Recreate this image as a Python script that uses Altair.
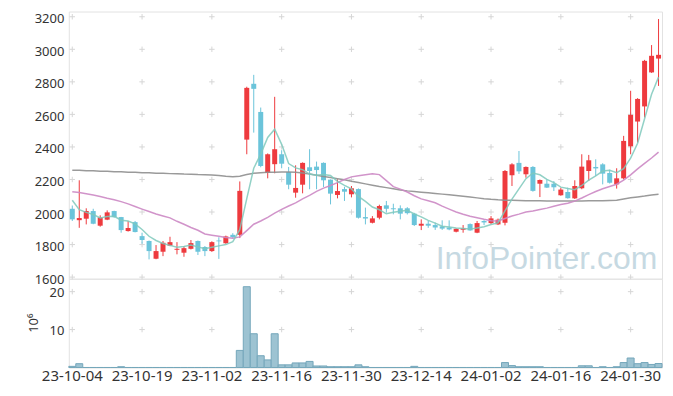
import altair as alt
import pandas as pd

dates = [
    "23-10-04", "23-10-05", "23-10-06", "23-10-10", "23-10-11", "23-10-12", "23-10-13", "23-10-16", "23-10-17", "23-10-18",
    "23-10-19", "23-10-20", "23-10-23", "23-10-24", "23-10-25", "23-10-26", "23-10-27", "23-10-30", "23-10-31", "23-11-01",
    "23-11-02", "23-11-03", "23-11-06", "23-11-07", "23-11-08", "23-11-09", "23-11-10", "23-11-13", "23-11-14", "23-11-15",
    "23-11-16", "23-11-17", "23-11-20", "23-11-21", "23-11-22", "23-11-23", "23-11-24", "23-11-27", "23-11-28", "23-11-29",
    "23-11-30", "23-12-01", "23-12-04", "23-12-05", "23-12-06", "23-12-07", "23-12-08", "23-12-11", "23-12-12", "23-12-13",
    "23-12-14", "23-12-15", "23-12-18", "23-12-19", "23-12-20", "23-12-21", "23-12-22", "23-12-26", "23-12-27", "23-12-28",
    "24-01-02", "24-01-03", "24-01-04", "24-01-05", "24-01-08", "24-01-09", "24-01-10", "24-01-11", "24-01-12", "24-01-15",
    "24-01-16", "24-01-17", "24-01-18", "24-01-19", "24-01-22", "24-01-23", "24-01-24", "24-01-25", "24-01-26", "24-01-29",
    "24-01-30", "24-01-31", "24-02-01", "24-02-02", "24-02-05",
]

opens = [
    2020, 1950, 1959, 2006, 1916, 1953, 2006, 1969, 1883, 1938,
    1852, 1822, 1713, 1756, 1793, 1768, 1750, 1774, 1822, 1785,
    1760, 1825, 1808, 1860, 1860, 2445, 2788, 2615, 2240, 2294,
    2355, 2246, 2119, 2168, 2275, 2279, 2302, 2199, 2105, 2141,
    2109, 2141, 1969, 1934, 1965, 2041, 2023, 2023, 2023, 1990,
    1916, 1928, 1920, 1912, 1905, 1879, 1891, 1926, 1873, 1945,
    1932, 1924, 1934, 2226, 2302, 2232, 2277, 2174, 2174, 2174,
    2103, 2123, 2084, 2146, 2252, 2277, 2293, 2240, 2170, 2207,
    2404, 2556, 2649, 2858, 2943,
]
highs = [
    2040, 2195, 2023, 2020, 1980, 2010, 2008, 1970, 1945, 1945,
    1873, 1825, 1797, 1822, 1848, 1815, 1791, 1828, 1825, 1791,
    1820, 1845, 1855, 1870, 2188, 2770, 2843, 2642, 2360, 2708,
    2380, 2277, 2287, 2305, 2386, 2310, 2305, 2200, 2201, 2155,
    2160, 2145, 2027, 1975, 2045, 2068, 2051, 2041, 2030, 1995,
    1955, 1945, 1935, 1949, 1949, 1900, 1920, 1930, 1945, 1950,
    1975, 1960, 2258, 2300, 2375, 2280, 2282, 2200, 2200, 2190,
    2150, 2150, 2195, 2355, 2351, 2324, 2300, 2260, 2269, 2468,
    2745, 2700, 2935, 3026, 3186,
]
lows = [
    1945, 1903, 1924, 1925, 1910, 1950, 1965, 1873, 1880, 1875,
    1805, 1709, 1710, 1729, 1790, 1740, 1725, 1770, 1736, 1729,
    1755, 1712, 1805, 1838, 1840, 2355, 2488, 2275, 2207, 2238,
    2269, 2140, 2088, 2115, 2140, 2140, 2154, 2047, 2084, 2068,
    2090, 1960, 1924, 1930, 1955, 1996, 1986, 1955, 1985, 1914,
    1889, 1903, 1890, 1890, 1888, 1875, 1873, 1885, 1870, 1920,
    1925, 1920, 1918, 2160, 2234, 2211, 2125, 2092, 2148, 2129,
    2100, 2082, 2080, 2140, 2191, 2222, 2170, 2175, 2144, 2200,
    2355, 2427, 2581, 2855, 2775,
]
closes = [
    1955, 1963, 2006, 1928, 1967, 1998, 1969, 1889, 1902, 1877,
    1828, 1760, 1760, 1811, 1815, 1774, 1778, 1809, 1756, 1760,
    1815, 1820, 1850, 1845, 2130, 2763, 2757, 2283, 2355, 2386,
    2297, 2168, 2148, 2302, 2252, 2258, 2195, 2113, 2129, 2125,
    2146, 1965, 1960, 1961, 2037, 2020, 2017, 1990, 1993, 1920,
    1928, 1916, 1905, 1898, 1893, 1897, 1900, 1887, 1932, 1936,
    1961, 1953, 2252, 2293, 2250, 2277, 2130, 2197, 2150, 2152,
    2138, 2085, 2160, 2279, 2318, 2268, 2236, 2180, 2207, 2437,
    2597, 2695, 2929, 2960, 2966,
]
ma5 = [
    2072, 2015, 1998, 1985, 1964, 1972, 1974, 1950, 1945, 1927,
    1893, 1851, 1825, 1807, 1795, 1784, 1788, 1797, 1786, 1775,
    1784, 1792, 1800, 1818, 1892, 2082, 2269, 2356, 2458, 2509,
    2416, 2298, 2271, 2260, 2233, 2226, 2231, 2224, 2189, 2164,
    2142, 2096, 2065, 2031, 2014, 1989, 1999, 2005, 2011, 1988,
    1970, 1949, 1932, 1913, 1908, 1902, 1899, 1895, 1902, 1910,
    1923, 1934, 2007, 2079, 2142, 2205, 2240, 2229, 2201, 2181,
    2153, 2144, 2137, 2163, 2196, 2222, 2252, 2256, 2242, 2266,
    2331, 2423, 2573, 2724, 2829,
]
ma20 = [
    2125, 2120, 2112, 2104, 2095, 2085, 2076, 2064, 2050, 2034,
    2018, 2003, 1988, 1976, 1964, 1943, 1925, 1905, 1888, 1865,
    1858, 1851, 1843, 1839, 1847, 1886, 1925, 1945, 1967, 1993,
    2016, 2037, 2056, 2081, 2102, 2127, 2147, 2163, 2181, 2200,
    2216, 2223, 2229, 2235, 2230, 2193, 2156, 2141, 2123, 2100,
    2081, 2069, 2057, 2036, 2018, 2000, 1986, 1974, 1965, 1955,
    1946, 1945, 1960, 1976, 1987, 2000, 2006, 2016, 2024, 2035,
    2046, 2054, 2067, 2086, 2107, 2126, 2143, 2157, 2171, 2196,
    2228, 2265, 2299, 2332, 2368,
]
ma_long = [
    2257, 2256, 2254, 2253, 2251, 2250, 2248, 2247, 2245, 2244,
    2242, 2241, 2239, 2238, 2236, 2235, 2233, 2232, 2230, 2229,
    2227, 2224, 2220, 2217, 2220, 2230, 2238, 2242, 2244, 2245,
    2246, 2246, 2244, 2240, 2233, 2226, 2219, 2212, 2205, 2198,
    2189, 2181, 2173, 2165, 2157, 2150, 2143, 2136, 2130, 2126,
    2122, 2118, 2114, 2110, 2106, 2102, 2097, 2092, 2087, 2082,
    2078, 2075, 2073, 2072, 2071, 2070, 2069, 2069, 2068, 2068,
    2068, 2068, 2068, 2068, 2069, 2069, 2070, 2071, 2072, 2080,
    2088, 2093, 2098, 2104, 2109,
]
# volume in millions (10^6)
volume = [
    0.3, 1.0, 0, 0, 0, 0, 0, 0.2, 0, 0,
    0, 0, 0, 0, 0, 0, 0, 0, 0, 0,
    0, 0, 0, 0, 4.5, 21.3, 8.9, 3.1, 2.0, 8.9,
    0.7, 0.7, 1.2, 1.2, 1.6, 0.4, 0.4, 0.2, 0.2, 0.2,
    0.2, 0.7, 0.2, 0, 0, 0, 0, 0, 0, 0.3,
    0, 0, 0, 0, 0, 0, 0, 0, 0, 0,
    0, 0, 1.3, 0.5, 0.2, 0.2, 0.2, 0.2, 0, 0,
    0, 0, 0, 0.45, 0.45, 0, 0.2, 0, 0.2, 1.3,
    2.5, 1.0, 1.3, 0.8, 1.05,
]

price_ticks = [1600, 1800, 2000, 2200, 2400, 2600, 2800, 3000, 3200]
vol_ticks = [10, 20]
label_dates = dates[::10]
watermark = "InfoPointer.com"

RED = "#ee3a3e"
BLUE = "#6bc4da"
FONT = "Noto Sans"
TXT = "#333333"

df = pd.DataFrame({
    "date": dates, "open": opens, "high": highs, "low": lows, "close": closes,
    "ma5": ma5, "ma20": ma20, "malong": ma_long, "vol": volume,
})
price_grid = pd.DataFrame([(d, p) for d in label_dates for p in price_ticks], columns=["date", "p"])
vol_grid = pd.DataFrame([(d, v) for d in label_dates for v in vol_ticks], columns=["date", "v"])

xscale = alt.Scale(domain=dates, paddingInner=0, paddingOuter=0)
pscale = alt.Scale(domain=[1590, 3232], nice=False, zero=False)
vscale = alt.Scale(domain=[0, 23.4], nice=False)

x_axis = alt.Axis(
    values=label_dates, labelAngle=0, ticks=False, domain=False, grid=False, title=None,
    labelFontSize=15, labelPadding=1, labelColor=TXT, labelFont=FONT, labelOverlap=False)
p_axis = alt.Axis(
    values=price_ticks, format="d", title=None, ticks=False, domain=False, grid=False,
    labelPadding=5, labelFontSize=13, labelColor=TXT, labelFont=FONT, labelOffset=2,
    minExtent=68, maxExtent=68)
v_axis = alt.Axis(
    values=vol_ticks, format="d", ticks=False, domain=False, grid=False,
    labelPadding=5, labelFontSize=13, labelColor=TXT, labelFont=FONT, labelOffset=1,
    minExtent=68, maxExtent=68,
    title="10⁶", titleFont=FONT, titleFontSize=13, titleFontWeight="normal", titleColor=TXT,
    titleX=-35, titleY=44, titleAngle=270, titleAlign="center", titleBaseline="middle")

cross = "M-1,0L1,0M0,-1L0,1"
color_cond = alt.condition("datum.close >= datum.open", alt.value(RED), alt.value(BLUE))

base = alt.Chart(df)

wm = alt.Chart(pd.DataFrame({"t": [watermark]})).mark_text(
    font="Liberation Sans", fontSize=32, color="#c6d9e2", align="left", baseline="alphabetic"
).encode(text="t:N", x=alt.value(368), y=alt.value(258))

pgrid = alt.Chart(price_grid).mark_point(shape=cross, size=30, filled=False, color="#d6d6d6", strokeWidth=1, opacity=1).encode(
    x=alt.X("date:O", scale=xscale, axis=None),
    y=alt.Y("p:Q", scale=pscale, axis=p_axis),
)

wicks = base.mark_rule(strokeWidth=1).encode(
    x=alt.X("date:O", scale=xscale, axis=None),
    y=alt.Y("low:Q", scale=pscale, axis=p_axis),
    y2="high:Q",
    color=color_cond,
)
bodies = base.mark_bar(size=5).encode(
    x=alt.X("date:O", scale=xscale, axis=None),
    y=alt.Y("open:Q", scale=pscale, axis=p_axis),
    y2="close:Q",
    color=color_cond,
)

def ma_line(field, col, op):
    return base.mark_line(strokeWidth=1.5, color=col, opacity=op).encode(
        x=alt.X("date:O", scale=xscale, axis=None),
        y=alt.Y(f"{field}:Q", scale=pscale, axis=p_axis),
    )

price = alt.layer(
    pgrid, wm, wicks, bodies,
    ma_line("malong", "#8f8f8f", 0.9),
    ma_line("ma20", "#cc88c4", 0.9),
    ma_line("ma5", "#7fc9bc", 0.85),
).properties(width=595, height=268)

vgrid = alt.Chart(vol_grid).mark_point(shape=cross, size=30, filled=False, color="#d6d6d6", strokeWidth=1, opacity=1).encode(
    x=alt.X("date:O", scale=xscale, axis=x_axis),
    y=alt.Y("v:Q", scale=vscale, axis=v_axis),
)
vbars = base.mark_bar(fill="#9dc3d2", stroke="#74a7bb", strokeWidth=1).encode(
    x=alt.X("date:O", scale=xscale, axis=x_axis),
    y=alt.Y("vol:Q", scale=vscale, axis=v_axis),
)
vol = alt.layer(vgrid, vbars).properties(width=595, height=89)

chart = alt.vconcat(price, vol, spacing=0, bounds="flush").properties(
    padding={"left": 0, "top": 10, "right": 10, "bottom": 4}
).configure_view(stroke="#e2e2e2", strokeWidth=1).configure_concat(spacing=0)

chart.save("out.html", embed_options={"renderer": "svg", "actions": False})
